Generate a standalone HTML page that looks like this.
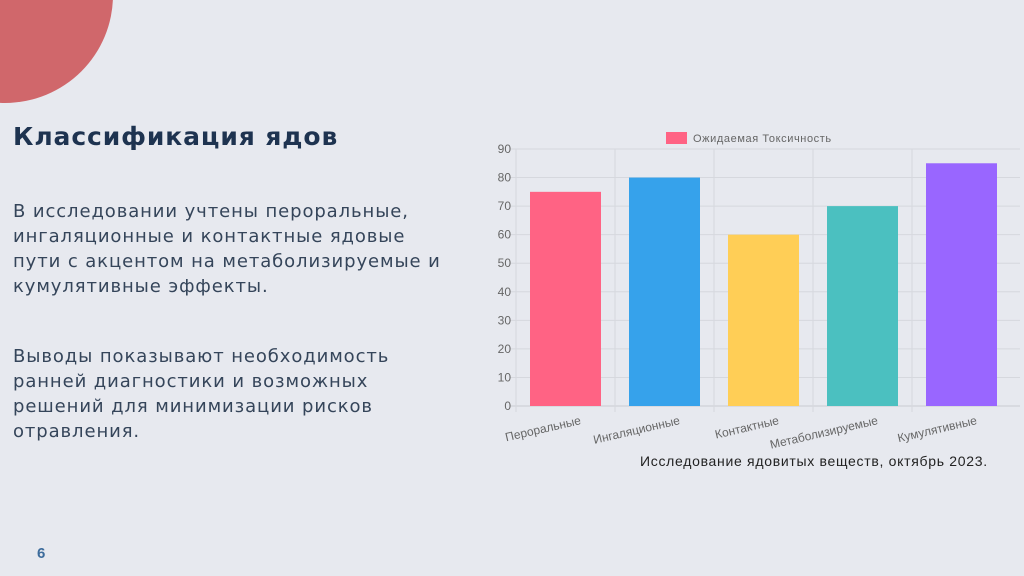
<!DOCTYPE html>
<html><head><meta charset="utf-8"><style>
body{margin:0;width:1024px;height:576px;background:#e7e9ef;position:relative;overflow:hidden;font-family:"Liberation Sans","Noto Sans CJK SC",sans-serif;}
h1{position:absolute;left:13px;top:122px;margin:0;font-family:"DejaVu Sans",sans-serif;font-size:25px;letter-spacing:0.9px;font-weight:bold;color:#1e3350;white-space:nowrap;}
.p{position:absolute;left:13px;font-family:"DejaVu Sans",sans-serif;font-size:18px;line-height:25px;color:#35455a;letter-spacing:0.9px;white-space:nowrap;}
.num{position:absolute;left:37px;top:545px;font-size:15px;font-weight:bold;color:#3d6c9c;}
.cap{position:absolute;left:640px;top:453px;font-size:14px;letter-spacing:0.7px;color:#222;white-space:nowrap;}
svg{position:absolute;left:0;top:0;}
</style></head><body>
<svg width="1024" height="576"><circle cx="5" cy="-5" r="108" fill="#d0676b"/></svg>
<h1>Классификация ядов</h1>
<div class="p" style="top:199px">В исследовании учтены пероральные,<br>ингаляционные и контактные ядовые<br>пути с акцентом на метаболизируемые и<br>кумулятивные эффекты.</div>
<div class="p" style="top:344px">Выводы показывают необходимость<br>ранней диагностики и возможных<br>решений для минимизации рисков<br>отравления.</div>
<div class="num">6</div>
<div class="cap">Исследование ядовитых веществ, октябрь 2023.</div>
<svg id="chart" width="1024" height="576"></svg>
<script>
const categories=["Пероральные","Ингаляционные","Контактные","Метаболизируемые","Кумулятивные"];
const values=[75,80,60,70,85];
const colors=["#ff6384","#36a2eb","#ffce56","#4bc0c0","#9966ff"];
const ticks=[0,10,20,30,40,50,60,70,80,90];
const NS="http://www.w3.org/2000/svg";
const svg=document.getElementById('chart');
const x0=516,cw=99,y0=406,ymax=90,h=257;
const ys=v=>y0-v/ymax*h;
function mk(t,a,txt){const e=document.createElementNS(NS,t);for(const k in a)e.setAttribute(k,a[k]);if(txt!==undefined)e.textContent=txt;svg.appendChild(e);return e;}
ticks.forEach(t=>{
 const l=mk('line',{x1:x0-6,x2:1020,y1:ys(t),y2:ys(t),stroke:t===0?'#c8cad0':'#d6d8de','stroke-width':1});
 
 
 const tx=mk('text',{x:x0-5,y:ys(t)+4,'text-anchor':'end','font-size':12,fill:'#666'},t);
 
 
});
for(let i=0;i<categories.length;i++){
 const l=mk('line',{x1:x0+i*cw,x2:x0+i*cw,y1:ys(90),y2:y0+6,stroke:'#d6d8de','stroke-width':1});
 
 
}
categories.forEach((c,i)=>{
 const bw=71,bx=x0+i*cw+(cw-bw)/2;
 const r=mk('rect',{x:bx,y:ys(values[i]),width:bw,height:y0-ys(values[i]),fill:colors[i]});
 
 
 const cx=x0+i*cw+cw/2;
 const ax=cx+16,ay=y0+18;
 const t=mk('text',{x:ax,y:ay,'text-anchor':'end','font-size':12,fill:'#666',transform:`rotate(-13 ${ax} ${ay})`},c);
 
 
});
const lr=mk('rect',{x:666,y:132,width:21,height:12,fill:colors[0]});


const lt=mk('text',{x:693,y:142,'font-size':11,'letter-spacing':0.6,fill:'#666'},'Ожидаемая Токсичность');


</script>
</body></html>
